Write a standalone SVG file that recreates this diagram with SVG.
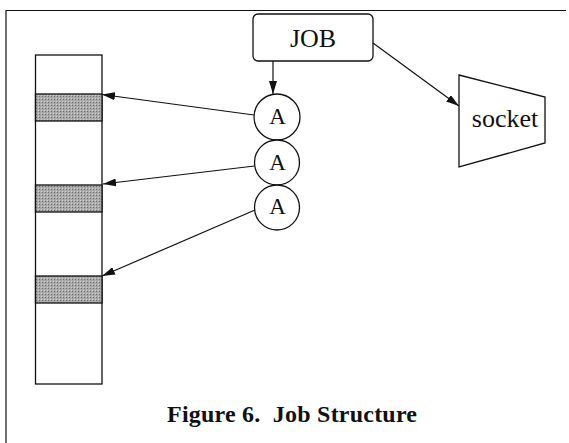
<svg xmlns="http://www.w3.org/2000/svg" width="569" height="443" viewBox="0 0 569 443">
  <defs>
    <marker id="arrow" viewBox="0 0 13 8" refX="13" refY="4" markerWidth="13" markerHeight="8" markerUnits="userSpaceOnUse" orient="auto">
      <path d="M0,0 L13,4 L0,8 Z" fill="#111"/>
    </marker>
    <pattern id="shade" width="3" height="3" patternUnits="userSpaceOnUse">
      <rect width="3" height="3" fill="#a9a9a9"/>
      <rect width="1" height="1" fill="#6e6e6e"/>
      <rect x="2" y="2" width="1" height="1" fill="#d2d2d2"/>
    </pattern>
  </defs>
  <style>
    .ln { stroke: #111; stroke-width: 1.2; fill: none; }
    .node { stroke: #111; stroke-width: 1.3; fill: #fff; }
    .slot { stroke: #111; stroke-width: 1.3; fill: url(#shade); }
    .lbl { font-family: "Liberation Serif", "Times New Roman", serif; font-size: 26px; fill: #111; text-anchor: middle; }
    .a { font-size: 23px; }
    .cap { font-family: "Liberation Serif", "Times New Roman", serif; font-size: 24px; font-weight: bold; fill: #111; }
  </style>
  <rect width="569" height="443" fill="#fff"/>

  <!-- outer frame (top and left edges) -->
  <path class="ln" d="M6,443 V10.5 H566"/>

  <!-- memory column with shaded slots -->
  <g id="memory">
    <rect class="node" x="35.5" y="55" width="66.5" height="329"/>
    <rect class="slot" x="35.5" y="94" width="66.5" height="27"/>
    <rect class="slot" x="35.5" y="185" width="66.5" height="27"/>
    <rect class="slot" x="35.5" y="276" width="66.5" height="27"/>
  </g>

  <g id="job">
    <rect class="node" x="253" y="14" width="120" height="47" rx="5"/>
    <text class="lbl" x="313" y="47">JOB</text>
  </g>

  <g id="a1">
    <circle class="node" cx="277" cy="117" r="23"/>
    <text class="lbl a" x="277.5" y="124">A</text>
  </g>
  <g id="a2">
    <circle class="node" cx="277" cy="162.5" r="22.5"/>
    <text class="lbl a" x="277.5" y="169.5">A</text>
  </g>
  <g id="a3">
    <circle class="node" cx="277" cy="207.5" r="22.5"/>
    <text class="lbl a" x="277.5" y="214">A</text>
  </g>

  <g id="socket">
    <path class="node" d="M459,75 L545,97 L545,143 L459,167 Z"/>
    <text class="lbl" x="505" y="127">socket</text>
  </g>

  <g id="connectors">
    <line class="ln" x1="273" y1="61" x2="273" y2="94" marker-end="url(#arrow)"/>
    <line class="ln" x1="373" y1="43" x2="459" y2="106" marker-end="url(#arrow)"/>
    <line class="ln" x1="254" y1="115" x2="102" y2="94.5" marker-end="url(#arrow)"/>
    <line class="ln" x1="254.5" y1="166" x2="103" y2="184" marker-end="url(#arrow)"/>
    <line class="ln" x1="255" y1="210" x2="102" y2="276" marker-end="url(#arrow)"/>
  </g>

  <text class="cap" x="167" y="422" textLength="250" xml:space="preserve">Figure 6.  Job Structure</text>
</svg>
